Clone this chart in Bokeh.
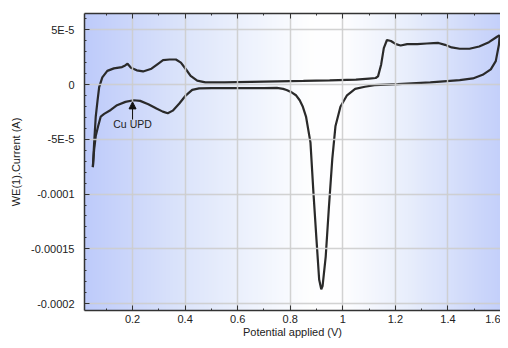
import numpy as np
from bokeh.plotting import figure
from bokeh.models import (Range1d, FixedTicker, LinearAxis, Arrow, NormalHead,
                          Label, CustomJSTickFormatter)
from bokeh.embed import file_html
from bokeh.resources import INLINE

# ---- data ----
# forward (anodic) scan: potential (V), current (units of 1e-5 A)
fwd_v = [0.049, 0.054, 0.060, 0.067, 0.073, 0.085, 0.104, 0.129, 0.160, 0.172,
         0.181, 0.194, 0.216, 0.240, 0.272, 0.297, 0.316, 0.341, 0.365, 0.384,
         0.403, 0.421, 0.446, 0.477, 0.55, 0.65, 0.75, 0.85, 0.95, 1.05,
         1.10, 1.125, 1.134, 1.146, 1.156, 1.168, 1.183, 1.202, 1.220, 1.245,
         1.283, 1.320, 1.345, 1.364, 1.389, 1.414, 1.445, 1.482, 1.519, 1.556,
         1.587, 1.597]
fwd_i = [-7.54, -5.3, -2.92, -1.43, -0.24, 0.65, 1.25, 1.48, 1.6, 1.75,
         1.9, 1.54, 1.3, 1.2, 1.45, 1.9, 2.23, 2.29, 2.29, 2.0,
         1.4, 0.8, 0.36, 0.2, 0.2, 0.25, 0.3, 0.33, 0.38, 0.45,
         0.55, 0.6, 0.75, 1.84, 3.33, 4.07, 3.98, 3.69, 3.57, 3.69,
         3.69, 3.75, 3.78, 3.8, 3.63, 3.39, 3.27, 3.27, 3.48, 3.87,
         4.37, 4.52]
# reverse (cathodic) scan
rev_v = [1.597, 1.594, 1.582, 1.563, 1.532, 1.495, 1.445, 1.333, 1.209, 1.12,
         1.084, 1.047, 1.016, 0.991, 0.972, 0.960, 0.947, 0.935, 0.923, 0.918,
         0.910, 0.900, 0.888, 0.877, 0.860, 0.848, 0.836, 0.823, 0.804, 0.786,
         0.773, 0.749, 0.70, 0.60, 0.502, 0.453, 0.427, 0.403, 0.378, 0.353,
         0.334, 0.315, 0.291, 0.260, 0.229, 0.204, 0.173, 0.141, 0.117, 0.092,
         0.079, 0.069, 0.060, 0.054, 0.049]
rev_i = [4.52, 3.63, 2.14, 1.39, 0.89, 0.56, 0.41, 0.2, 0.05, -0.05,
         -0.2, -0.39, -0.98, -2.03, -3.81, -6.79, -11.25, -15.7, -18.4, -18.7,
         -17.8, -14.2, -9.77, -5.3, -2.92, -2.03, -1.43, -1.0, -0.69, -0.5,
         -0.39, -0.3, -0.33, -0.33, -0.33, -0.35, -0.48, -0.98, -1.73, -2.38,
         -2.62, -2.47, -2.18, -1.79, -1.49, -1.43, -1.58, -1.88, -2.32, -2.68,
         -2.92, -3.81, -4.7, -5.9, -7.54]
I_UNIT = 1e-5

x_ticks = [0.2, 0.4, 0.6, 0.8, 1.0, 1.2, 1.4, 1.6]
x_minor = [0.1, 0.3, 0.5, 0.7, 0.9, 1.1, 1.3, 1.5]
y_ticks = [-2e-4, -1.5e-4, -1e-4, -5e-5, 0.0, 5e-5]
y_tick_labels = ["-0.0002", "-0.00015", "-0.0001", "-5E-5", "0", "5E-5"]
y_minor = [k * 1e-5 for k in range(-20, 7)]

annot_text = "Cu UPD"
annot_x = 0.2
annot_tip = -1.58e-5
annot_tail = -3.19e-5
annot_text_y = -3.63e-5

X0, X1 = 0.0172, 1.6
Y0, Y1 = -2.063e-4, 6.49e-5

FONT = "Liberation Sans"
TXT = "#222222"
AX = "#333333"

p = figure(width=500, height=340, x_range=Range1d(X0, X1), y_range=Range1d(Y0, Y1),
           output_backend="svg", toolbar_location=None,
           min_border_left=84, min_border_right=0, min_border_top=13, min_border_bottom=29)
p.outline_line_color = None
p.background_fill_color = "white"
p.border_fill_color = "white"

# ---- horizontal gradient background ----
stops_f = [0.0, 0.25, 0.45, 0.55, 0.62, 0.78, 1.0]
stops_c = [(190, 203, 250), (222, 230, 251), (244, 247, 254), (255, 255, 255),
           (254, 254, 255), (232, 238, 252), (196, 208, 250)]
N = 400
f = np.linspace(0, 1, N)
r = np.interp(f, stops_f, [c[0] for c in stops_c])
g = np.interp(f, stops_f, [c[1] for c in stops_c])
b = np.interp(f, stops_f, [c[2] for c in stops_c])
img = np.zeros((1, N), dtype=np.uint32)
view = img.view(dtype=np.uint8).reshape((1, N, 4))
view[0, :, 0] = r.astype(np.uint8)
view[0, :, 1] = g.astype(np.uint8)
view[0, :, 2] = b.astype(np.uint8)
view[0, :, 3] = 255
p.image_rgba(image=[img], x=X0, y=Y0, dw=X1 - X0, dh=Y1 - Y0, level="image")

# ---- axes ----
xticker = FixedTicker(ticks=x_ticks, minor_ticks=x_minor)
yticker = FixedTicker(ticks=y_ticks, minor_ticks=y_minor)
xfmt = CustomJSTickFormatter(code="return String(Math.round(tick*10)/10);")

xa = p.xaxis[0]
xa.ticker = xticker
xa.formatter = xfmt
ya = p.yaxis[0]
ya.ticker = yticker
ya.major_label_overrides = {t: l for t, l in zip(y_ticks, y_tick_labels)}
p.xgrid.ticker = xticker
p.ygrid.ticker = yticker

top = LinearAxis(ticker=xticker, formatter=CustomJSTickFormatter(code="return '';"),
                 major_label_standoff=0)
p.add_layout(top, "above")

for ax in (xa, ya, top):
    ax.axis_line_color = AX
    ax.axis_line_width = 1.5
    ax.major_tick_line_color = AX
    ax.minor_tick_line_color = AX
    ax.major_tick_in = 5
    ax.major_tick_out = 0
    ax.minor_tick_in = 2
    ax.minor_tick_out = 0
    ax.major_label_text_font = FONT
    ax.major_label_text_font_size = "11px"
    ax.major_label_text_color = TXT
    ax.axis_label_text_font = FONT
    ax.axis_label_text_font_size = "11px"
    ax.axis_label_text_font_style = "normal"
    ax.axis_label_text_color = TXT

xa.axis_label = "Potential applied (V)"
xa.major_label_standoff = 4
xa.axis_label_standoff = 0
ya.axis_label = "WE(1).Current (A)"
ya.major_label_standoff = 10
ya.axis_label_standoff = 6
top.major_label_standoff = 0

for gr in (p.xgrid, p.ygrid):
    gr.grid_line_color = "#cdcdcd"
    gr.grid_line_width = 1.5
    gr.grid_line_alpha = 0.9
    gr.level = "glyph"

# ---- curve ----
p.line(fwd_v, np.array(fwd_i) * I_UNIT, line_color="#2a2a2a", line_width=2.2)
p.line(rev_v, np.array(rev_i) * I_UNIT, line_color="#2a2a2a", line_width=2.2)

# ---- annotation ----
p.add_layout(Arrow(end=NormalHead(size=7, fill_color="#111111", line_color="#111111"),
                   x_start=annot_x, y_start=annot_tail, x_end=annot_x, y_end=annot_tip,
                   line_color="#111111", line_width=1))
p.add_layout(Label(x=annot_x, y=annot_text_y, text=annot_text, text_align="center",
                   text_baseline="middle", text_font=FONT, text_font_size="10.5px",
                   text_color=TXT))

open("out.html", "w").write(file_html(p, INLINE))
